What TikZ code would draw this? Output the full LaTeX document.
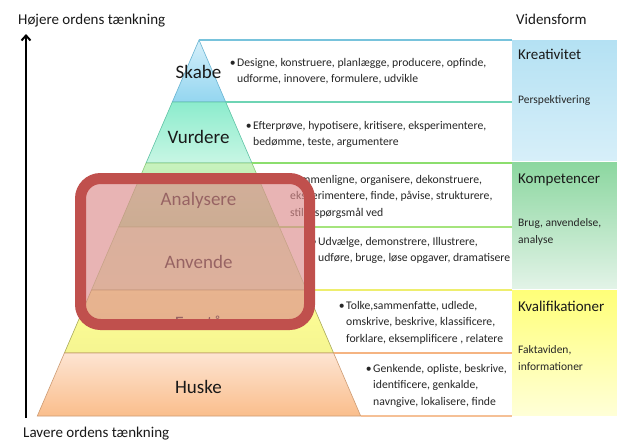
\documentclass[tikz,border=0pt]{standalone}
\usepackage{fontspec}
\setmainfont{Carlito}
\usetikzlibrary{arrows.meta}
\definecolor{skabeTop}{RGB}{212,239,250}
\definecolor{skabeBot}{RGB}{148,214,240}
\definecolor{skabeEdge}{RGB}{105,180,210}
\definecolor{vurdTop}{RGB}{140,236,205}
\definecolor{vurdBot}{RGB}{200,246,228}
\definecolor{vurdEdge}{RGB}{95,195,165}
\definecolor{analTop}{RGB}{200,242,190}
\definecolor{analBot}{RGB}{175,236,160}
\definecolor{analEdge}{RGB}{140,200,120}
\definecolor{anvTop}{RGB}{215,245,190}
\definecolor{anvBot}{RGB}{225,245,185}
\definecolor{anvEdge}{RGB}{160,205,130}
\definecolor{forTop}{RGB}{255,255,150}
\definecolor{forBot}{RGB}{245,245,145}
\definecolor{forEdge}{RGB}{170,170,90}
\definecolor{husTop}{RGB}{253,228,210}
\definecolor{husBot}{RGB}{250,190,140}
\definecolor{husEdge}{RGB}{205,155,115}
\definecolor{lineA}{RGB}{120,195,220}
\definecolor{lineB}{RGB}{110,212,180}
\definecolor{lineC}{RGB}{140,222,110}
\definecolor{lineD}{RGB}{165,228,125}
\definecolor{lineE}{RGB}{238,238,110}
\definecolor{lineF}{RGB}{245,180,130}
\definecolor{lineG}{RGB}{245,192,150}
\definecolor{kreaTop}{RGB}{180,225,243}
\definecolor{kreaBot}{RGB}{215,239,249}
\definecolor{kompTop}{RGB}{140,215,160}
\definecolor{kompBot}{RGB}{226,243,231}
\definecolor{kvalTop}{RGB}{255,255,120}
\definecolor{kvalBot}{RGB}{255,255,215}
\definecolor{ovBorder}{RGB}{192,80,77}
\definecolor{ovFill}{RGB}{220,140,140}
\begin{document}
\begin{tikzpicture}[x=1pt,y=-1pt,
  lvl/.style={font=\fontsize{19}{22}\selectfont, anchor=base, inner sep=0pt, text=black!90},
  btext/.style={anchor=north west, inner sep=0pt, align=left, font=\fontsize{11.7}{16.5}\selectfont, text=black!85},
  ctitle/.style={anchor=base west, inner sep=0pt, font=\fontsize{15}{18}\selectfont, text=black!90},
  csub/.style={anchor=north west, inner sep=0pt, align=left, font=\fontsize{11.5}{17}\selectfont, text=black!85},
  side/.style={anchor=base west, inner sep=0pt, font=\fontsize{15}{18}\selectfont, text=black!90},
  sep/.style={line width=1.3pt},
  edge/.style={line width=0.6pt}
]
\useasboundingbox (0,0) rectangle (617,442);
\fill[white] (0,0) rectangle (617,442);

% pyramid levels
\shade[top color=skabeTop, bottom color=skabeBot] (199,40) -- (225.7,102) -- (172.3,102) -- cycle;
\draw[edge, skabeEdge] (199,40) -- (225.7,102) -- (172.3,102) -- cycle;
\shade[top color=vurdTop, bottom color=vurdBot] (172.3,102) -- (225.7,102) -- (251.9,163) -- (146.1,163) -- cycle;
\draw[edge, vurdEdge] (172.3,102) -- (225.7,102) -- (251.9,163) -- (146.1,163) -- cycle;
\shade[top color=analTop, bottom color=analBot] (146.1,163) -- (251.9,163) -- (279.4,227) -- (118.6,227) -- cycle;
\draw[edge, analEdge] (146.1,163) -- (251.9,163) -- (279.4,227) -- (118.6,227) -- cycle;
\shade[top color=anvTop, bottom color=anvBot] (118.6,227) -- (279.4,227) -- (306.5,290) -- (91.5,290) -- cycle;
\draw[edge, anvEdge] (118.6,227) -- (279.4,227) -- (306.5,290) -- (91.5,290) -- cycle;
\shade[top color=forTop, bottom color=forBot] (91.5,290) -- (306.5,290) -- (333.6,353) -- (64.4,353) -- cycle;
\draw[edge, forEdge] (91.5,290) -- (306.5,290) -- (333.6,353) -- (64.4,353) -- cycle;
\shade[top color=husTop, bottom color=husBot] (64.4,353) -- (333.6,353) -- (360.7,416) -- (37.3,416) -- cycle;
\draw[edge, husEdge] (64.4,353) -- (333.6,353) -- (360.7,416) -- (37.3,416) -- cycle;

% separator lines of the text rows
\draw[sep, lineA] (199,40) -- (512,40);
\draw[sep, lineB] (225.7,102) -- (512,102);
\draw[sep, lineC] (251.9,163) -- (512,163);
\draw[sep, lineD] (279.4,227) -- (512,227);
\draw[sep, lineE] (306.5,290) -- (512,290);
\draw[sep, lineF] (333.6,353) -- (512,353);
\draw[sep, lineG] (360.7,416) -- (512,416);

% level labels
\node[lvl] (skabe) at (198.5,78) {Skabe};
\node[lvl] (vurdere) at (198.5,143) {Vurdere};
\node[lvl] (analysere) at (198.5,205) {Analysere};
\node[lvl] (anvende) at (198.5,268) {Anvende};
\node[lvl] (forstaa) at (198.5,329) {Forstå};
\node[lvl] (huske) at (198.5,393) {Huske};

% verbs
\node[btext] (tskabe) at (237,54.5) {\strut\llap{•\hspace{1.5pt}}Designe, konstruere, planlægge, producere, opfinde,\\udforme, innovere, formulere, udvikle};
\node[btext] (tvurdere) at (253,117.5) {\strut\llap{•\hspace{1.5pt}}Efterprøve, hypotisere, kritisere, eksperimentere,\\bedømme, teste, argumentere};
\node[btext] (tanalysere) at (290,171.5) {\strut\llap{•\hspace{1.5pt}}Sammenligne, organisere, dekonstruere,\\eksperimentere, finde, påvise, strukturere,\\stille spørgsmål ved};
\node[btext] (tanvende) at (318,233.5) {\strut\llap{•\hspace{1.5pt}}Udvælge, demonstrere, Illustrere,\\udføre, bruge, løse opgaver, dramatisere};
\node[btext] (tforstaa) at (346,297.5) {\strut\llap{•\hspace{1.5pt}}Tolke,sammenfatte, udlede,\\omskrive, beskrive, klassificere,\\forklare, eksemplificere , relatere};
\node[btext] (thuske) at (373,360.5) {\strut\llap{•\hspace{1.5pt}}Genkende, opliste, beskrive,\\identificere, genkalde,\\navngive, lokalisere, finde};

% right column
\shade[top color=kreaTop, bottom color=kreaBot] (512,40) rectangle (617,160.5);
\shade[top color=kompTop, bottom color=kompBot] (512,162.5) rectangle (617,288);
\shade[top color=kvalTop, bottom color=kvalBot] (512,290) rectangle (617,415);
\node[ctitle] (vidensform) at (516,24) {Vidensform};
\node[ctitle] (kreativitet) at (518,59) {Kreativitet};
\node[csub, anchor=base west] (perspektivering) at (518,103) {Perspektivering};
\node[ctitle] (kompetencer) at (518,183) {Kompetencer};
\node[csub] (brug) at (518,214.1) {\strut Brug, anvendelse,\\analyse};
\node[ctitle] (kvalifikationer) at (518,311) {Kvalifikationer};
\node[csub] (fakta) at (518,341.1) {\strut Faktaviden,\\informationer};

% side arrow and labels
\node[side] (hoejere) at (18,24) {Højere ordens tænkning};
\node[side] (lavere) at (23,437) {Lavere ordens tænkning};
\coordinate (arrowlow) at (26,418);
\coordinate (arrowhigh) at (26,34);
\draw[line width=2pt, -{Straight Barb[length=5pt,width=9pt]}] (arrowlow) -- (arrowhigh);

% highlight overlay
\draw[line width=11pt, draw=ovBorder, fill=ovFill, fill opacity=0.65, rounded corners=20pt]
  (80.5,178.5) rectangle (309.5,324.5);
\end{tikzpicture}
\end{document}
